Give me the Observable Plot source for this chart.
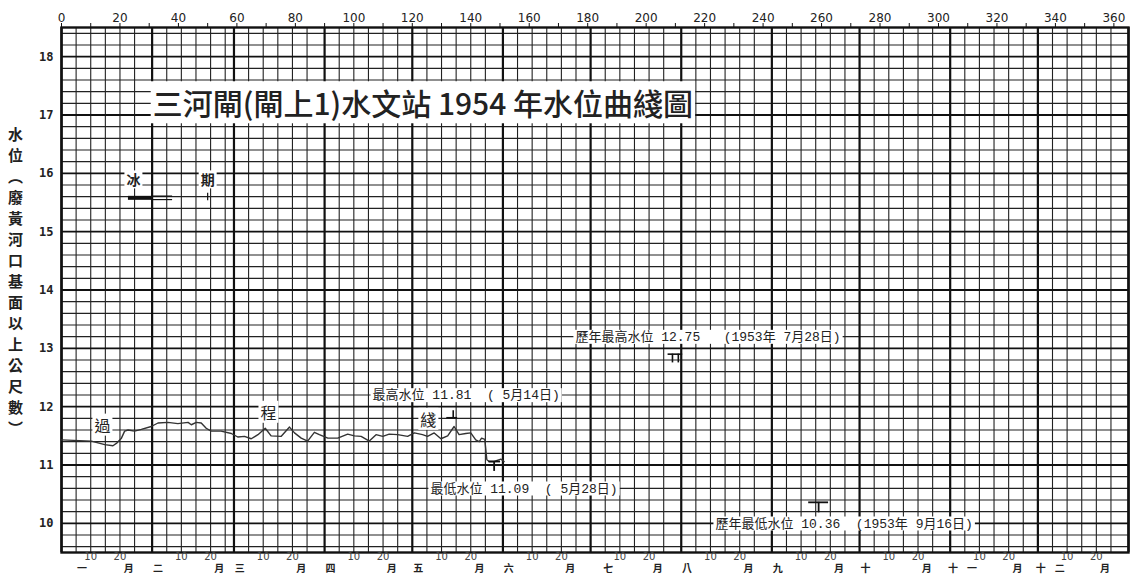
<!DOCTYPE html>
<html><head><meta charset="utf-8">
<script src="https://cdn.jsdelivr.net/npm/d3@7"></script>
<script src="https://cdn.jsdelivr.net/npm/@observablehq/plot@0.6"></script>
<style>
html,body{margin:0;padding:0;background:#fff;}
#chart{width:1134px;height:578px;overflow:hidden;}
</style></head><body><div id="chart"></div>
<script>
// ---- data ----
const days =   [0, 10.2, 14.8, 17.6, 19, 20.5, 21.6, 22.8, 25, 27.3, 30.7, 33, 36.4, 39.8, 43.3, 44.4, 46.1, 47.8, 49.5, 51.2, 54.6, 58.1, 60.3, 62.6, 64.9, 67.2, 69.7, 71.7, 75.1, 78, 79.7, 82, 84.2, 86.5, 88.2, 91.1, 94.5, 97.9, 100.2, 102.5, 105.3, 107.6, 109.9, 112.1, 115, 118.4, 120.7, 123.5, 125.2, 127.5, 129.8, 132.1, 134.3, 136, 138.3, 140, 141.7, 142.9, 143.7, 144.8, 145.5, 146.3, 148, 150.3, 151.4];
const levels = [11.43, 11.41, 11.35, 11.33, 11.38, 11.46, 11.58, 11.60, 11.58, 11.61, 11.66, 11.72, 11.73, 11.71, 11.73, 11.69, 11.73, 11.72, 11.63, 11.58, 11.58, 11.54, 11.48, 11.49, 11.45, 11.52, 11.63, 11.50, 11.49, 11.65, 11.55, 11.46, 11.41, 11.56, 11.52, 11.46, 11.46, 11.53, 11.50, 11.49, 11.41, 11.52, 11.49, 11.53, 11.52, 11.49, 11.55, 11.52, 11.49, 11.55, 11.45, 11.50, 11.66, 11.52, 11.54, 11.55, 11.43, 11.40, 11.46, 11.44, 11.09, 11.06, 11.06, 11.10, 11.06];

const monthNames = ["一","二","三","四","五","六","七","八","九","十","十一","十二"];
const monthLengths = [31,28,31,30,31,30,31,31,30,31,30,31];
const topTickLabels = [0,20,40,60,80,100,120,140,160,180,200,220,240,260,280,300,320,340,360];
const topTickMarks = [0,10,20,30,40,50,60,70,80,90,100,110,120,130,140,150,160,170,180,190,200,210,220,230,240,250,260,270,280,290,300,310,320,330,340,350,360];
const yTickLabels = [10,11,12,13,14,15,16,17,18];
const dayLabels = ["10","20"];

const titleText = "三河閘(閘上1)水文站 1954 年水位曲綫圖";
const yTitle = ["水","位","︵","廢","黃","河","口","基","面","以","上","公","尺","數","︶"];

// extremes: [day of year, level]
const maxEvent = {day: 134, level: 11.81};       // 5月14日
const minEvent = {day: 148, level: 11.06};       // 5月28日
const histMaxEvent = {day: 209, level: 12.75};   // 1953年7月28日
const histMinEvent = {day: 259, level: 10.36};   // 1953年9月16日

const notes = [
  {day: 106.4, level: 12.2, text: "最高水位 11.81  ( 5月14日)"},
  {day: 126.2, level: 10.6, text: "最低水位 11.09  ( 5月28日)"},
  {day: 175.8, level: 13.2, text: "歷年最高水位 12.75   (1953年 7月28日)"},
  {day: 223.7, level: 10.0, text: "歷年最低水位 10.36  (1953年 9月16日)"}
];
const lineWords = [
  {day: 14, level: 11.66, text: "過"},
  {day: 70.8, level: 11.88, text: "程"},
  {day: 125.5, level: 11.76, text: "綫"}
];
const iceWords = [
  {day: 24.6, level: 15.87, text: "冰"},
  {day: 50, level: 15.87, text: "期"}
];
const iceBar = {start: 22.9, mid: 31.2, end: 38, level: 15.58};

// ---- derived tables ----
const series = days.map((d, i) => ({day: d, level: levels[i]}));
const monthStarts = Array.from(d3.cumsum([0, ...monthLengths])).slice(0, 13);
const firstDays = monthStarts.slice(0, 12);
const thinV = [];
firstDays.forEach((s, i) => {
  for (let k = 5; k <= 25; k += 5) thinV.push(s + k);
});
const thinH = d3.range(96, 185, 2).map(v => v / 10).filter(v => !Number.isInteger(v));
const dayLabelRows = [];
firstDays.forEach(s => dayLabels.forEach(t => dayLabelRows.push({day: s + (+t), text: t})));
const monthLabelRows = [];
firstDays.forEach((s, i) => {
  const n = monthNames[i];
  if (n.length === 1) monthLabelRows.push({day: s + (i === 0 ? 7 : i === 6 ? 6 : 2), text: n});
  else { monthLabelRows.push({day: s + 1, text: n[0]}); monthLabelRows.push({day: s + 7.5, text: n[1]}); }
  monthLabelRows.push({day: s + 23, text: "月"});
});

const cjk = "'Noto Sans CJK TC', 'Noto Sans CJK SC', sans-serif";
const monoCjk = "'Liberation Mono', 'Noto Sans CJK TC', monospace";
const ink = "#222";

const plot = Plot.plot({
  width: 1134, height: 578,
  marginLeft: 61, marginRight: 6, marginTop: 27, marginBottom: 26,
  x: {domain: [0, 365], axis: null},
  y: {domain: [9.5, 18.5], axis: null},
  style: {fontFamily: cjk, background: "white", color: ink, overflow: "visible"},
  marks: [
    Plot.ruleX(thinV, {stroke: ink, strokeWidth: 1.1}),
    Plot.ruleY(thinH, {stroke: ink, strokeWidth: 1.1}),
    Plot.ruleX(monthStarts, {stroke: "#111", strokeWidth: 2.2}),
    Plot.ruleY(yTickLabels, {stroke: "#111", strokeWidth: 1.8}),
    Plot.frame({stroke: "#111", strokeWidth: 2.4}),
    Plot.axisX({anchor: "top", ticks: topTickMarks, tickSize: 5, tickFormat: () => "", label: null, stroke: "#111"}),
    Plot.text(topTickLabels, {x: d => d, text: d => String(d), frameAnchor: "top", dy: -14, fontSize: 12, fontFamily: "'DejaVu Sans'", fontStretch: "condensed"}),
    Plot.text(yTickLabels, {y: d => d, text: d => String(d), frameAnchor: "left", dx: -8, textAnchor: "end", fontSize: 12, fontWeight: "bold", fontFamily: "'DejaVu Sans Mono'"}),
    Plot.text([yTitle.join("\n")], {text: d => d, frameAnchor: "left", textAnchor: "middle", dx: -46, dy: -10, fontSize: 15, lineHeight: 1.4, fontWeight: "bold", fontFamily: cjk}),
    Plot.text(dayLabelRows, {x: "day", text: "text", frameAnchor: "bottom", dy: 7, fontSize: 10, fill: "#444", fontFamily: "'DejaVu Sans'"}),
    Plot.text(monthLabelRows, {x: "day", text: "text", frameAnchor: "bottom", dy: 19.5, fontSize: 10, fontWeight: "bold"}),
    // hydrograph
    Plot.line(series, {x: "day", y: "level", stroke: "#333", strokeWidth: 1.4}),
    // extreme markers
    Plot.ruleY([maxEvent], {y: "level", x1: d => d.day - 2.2, x2: d => d.day + 1.5, stroke: "#111", strokeWidth: 1.6}),
    Plot.ruleX([maxEvent], {x: "day", y1: "level", y2: d => d.level + 0.12, stroke: "#111", strokeWidth: 1.6}),
    Plot.ruleY([minEvent], {y: "level", x1: d => d.day - 1.8, x2: d => d.day + 2.2, stroke: "#111", strokeWidth: 1.8}),
    Plot.ruleX([minEvent], {x: "day", y1: "level", y2: d => d.level - 0.17, stroke: "#111", strokeWidth: 1.8}),
    Plot.ruleY([histMaxEvent], {y: d => d.level + 0.15, x1: d => d.day - 1.5, x2: d => d.day + 3.5, stroke: "#111", strokeWidth: 1.6}),
    Plot.ruleX([histMaxEvent], {x: "day", y1: "level", y2: d => d.level + 0.15, stroke: "#111", strokeWidth: 1.6}),
    Plot.ruleX([histMaxEvent], {x: d => d.day + 2, y1: "level", y2: d => d.level + 0.15, stroke: "#111", strokeWidth: 1.6}),
    Plot.ruleY([histMinEvent], {y: "level", x1: d => d.day - 3.4, x2: d => d.day + 3.4, stroke: "#111", strokeWidth: 1.8}),
    Plot.ruleX([histMinEvent], {x: "day", y1: "level", y2: d => d.level - 0.18, stroke: "#111", strokeWidth: 1.8}),
    // ice period symbol
    Plot.ruleY([iceBar], {y: "level", x1: "start", x2: "mid", stroke: "#111", strokeWidth: 4}),
    Plot.ruleY([iceBar], {y: d => d.level + 0.03, x1: "mid", x2: "end", stroke: "#111", strokeWidth: 1.2}),
    Plot.ruleY([iceBar], {y: d => d.level - 0.03, x1: "mid", x2: "end", stroke: "#111", strokeWidth: 1.2}),
    Plot.ruleX([iceWords[1]], {x: "day", y1: d => iceBar.level - 0.05, y2: d => iceBar.level + 0.08, stroke: "#111", strokeWidth: 1.2}),
    // words
    Plot.text(iceWords, {x: "day", y: "level", text: "text", fontSize: 14, fontWeight: "bold", className: "boxed", ariaLabel: "boxed"}),
    Plot.text(lineWords, {x: "day", y: "level", text: "text", fontSize: 16, className: "boxed", ariaLabel: "boxed"}),
    Plot.text(notes, {x: "day", y: "level", text: "text", textAnchor: "start", fontSize: 13, fontFamily: monoCjk, className: "boxed", ariaLabel: "boxed"}),
    Plot.text([titleText], {x: () => 31.2, y: () => 17.16, text: d => d, textAnchor: "start", fontSize: 30, fontWeight: 500, fontFamily: cjk, className: "boxed", ariaLabel: "boxed"})
  ]
});

document.getElementById("chart").append(plot);
// white boxes behind annotation texts (covering the graph-paper grid)
plot.querySelectorAll("g.boxed text, g[aria-label='boxed'] text").forEach(t => {
  if (t.previousSibling && t.previousSibling.tagName === "rect" && t.previousSibling.dataset.box) return;
  const b = t.getBBox();
  const r = document.createElementNS("http://www.w3.org/2000/svg", "rect");
  r.dataset.box = "1";
  r.setAttribute("x", b.x - 2);
  r.setAttribute("y", b.y + 1);
  r.setAttribute("width", b.width + 4);
  r.setAttribute("height", b.height - 2);
  r.setAttribute("fill", "white");
  if (t.getAttribute("transform")) r.setAttribute("transform", t.getAttribute("transform"));
  t.parentNode.insertBefore(r, t);
});
</script></body></html>
